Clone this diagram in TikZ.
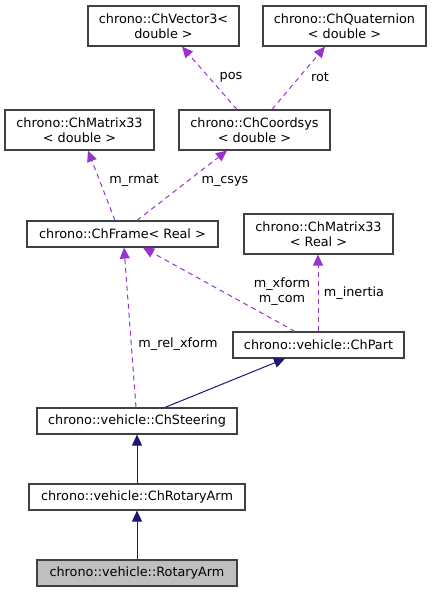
\documentclass[tikz,border=0pt]{standalone}
\usepackage{fontspec}
\setmainfont{DejaVu Sans}
\usetikzlibrary{arrows.meta}
\definecolor{dep}{HTML}{9A32CD}
\definecolor{inh}{HTML}{191970}
\definecolor{bord}{HTML}{404040}
\definecolor{cur}{HTML}{BFBFBF}
\tikzset{
  cls/.style={draw=bord, line width=1.2pt, fill=white, inner sep=0pt, align=center,
    font=\fontsize{12.8}{15.5}\selectfont},
  depedge/.style={draw=dep, line width=1pt, dash pattern=on 5pt off 4pt,
    -{Triangle[length=11pt,width=10pt,fill=dep]}},
  inhedge/.style={draw=inh, line width=1pt, -{Triangle[length=11pt,width=10pt,fill=inh]}},
  lbl/.style={inner sep=0pt, align=center, font=\fontsize{12.8}{15}\selectfont}
}
\begin{document}
\begin{tikzpicture}[x=1pt,y=-1pt]
\useasboundingbox (0,0) rectangle (432,592);
\node[cls, minimum width=151, minimum height=40] (v3) at (163.5,26) {chrono::ChVector3<\\double >};
\node[cls, minimum width=163, minimum height=40] (q) at (344.5,26) {chrono::ChQuaternion\\< double >};
\node[cls, minimum width=149, minimum height=40] (m33d) at (79.5,130) {chrono::ChMatrix33\\< double >};
\node[cls, minimum width=151, minimum height=40] (cs) at (254.5,130) {chrono::ChCoordsys\\< double >};
\node[cls, minimum width=191, minimum height=26] (fr) at (122.5,234) {chrono::ChFrame< Real >};
\node[cls, minimum width=149, minimum height=40] (m33r) at (318.5,234) {chrono::ChMatrix33\\< Real >};
\node[cls, minimum width=171, minimum height=26] (part) at (318.5,345) {chrono::vehicle::ChPart};
\node[cls, minimum width=200, minimum height=26] (st) at (137,421) {chrono::vehicle::ChSteering};
\node[cls, minimum width=216, minimum height=26] (cra) at (137,497) {chrono::vehicle::ChRotaryArm};
\node[cls, fill=cur, minimum width=200, minimum height=26] (ra) at (137,573) {chrono::vehicle::RotaryArm};

\draw[depedge] (237,0 |- cs.north) -- (182,0 |- v3.south);
\draw[depedge] (272,0 |- cs.north) -- (325,0 |- q.south);
\draw[depedge] (115,0 |- fr.north) -- (88,0 |- m33d.south);
\draw[depedge] (137,0 |- fr.north) -- (227,0 |- cs.south);
\draw[depedge] (295,0 |- part.north) -- (143,0 |- fr.south);
\draw[depedge] (318,0 |- part.north) -- (318,0 |- m33r.south);
\draw[depedge] (136,0 |- st.north) -- (124,0 |- fr.south);
\draw[inhedge] (165,0 |- st.north) -- (285,0 |- part.south);
\draw[inhedge] (cra.north) -- (st.south);
\draw[inhedge] (ra.north) -- (cra.south);

\node[lbl] (lpos) at (231,77) {pos};
\node[lbl] (lrot) at (320,77) {rot};
\node[lbl] (lrmat) at (134,181) {m\_rmat};
\node[lbl] (lcsys) at (225,181) {m\_csys};
\node[lbl] (lxf) at (282,292) {m\_xform\\m\_com};
\node[lbl] (lin) at (354,293) {m\_inertia};
\node[lbl] (lrel) at (178,344) {m\_rel\_xform};
\end{tikzpicture}
\end{document}
